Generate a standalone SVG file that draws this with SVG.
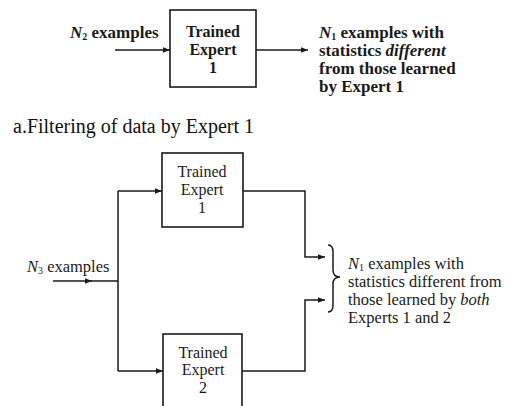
<svg xmlns="http://www.w3.org/2000/svg" width="511" height="406" viewBox="0 0 511 406">
<style>
.box{fill:#fff;stroke:#1a1a1a;stroke-width:1.6}
.ln{fill:none;stroke:#1a1a1a;stroke-width:1.5}
.t1{font-family:"Liberation Serif","Times New Roman",serif;font-weight:bold;font-size:17px;fill:#1a1a1a}
.tb1{font-family:"Liberation Serif","Times New Roman",serif;font-weight:bold;font-size:16px;fill:#1a1a1a;text-anchor:middle}
.t2{font-family:"Liberation Serif","Times New Roman",serif;font-size:16.5px;fill:#1a1a1a}
.tb2{font-family:"Liberation Serif","Times New Roman",serif;font-size:16px;fill:#1a1a1a;text-anchor:middle}
.cap{font-family:"Liberation Serif","Times New Roman",serif;font-size:20px;fill:#111}
.sub{font-size:10px}
</style>
<defs>
<marker id="ah" viewBox="0 0 10 10" refX="10" refY="5" markerWidth="7" markerHeight="7" markerUnits="userSpaceOnUse" orient="auto">
<path d="M0,1 L10,5 L0,9 Z" fill="#1a1a1a"/>
</marker>
</defs>
<rect width="511" height="406" fill="#fff"/>

<!-- Diagram a -->
<g id="connectors-a">
<line class="ln" x1="115" y1="50" x2="170" y2="50" marker-end="url(#ah)"/>
<line class="ln" x1="256" y1="50" x2="308" y2="50" marker-end="url(#ah)"/>
</g>
<g id="expert1-a">
<rect class="box" x="170" y="10" width="86" height="77"/>
<text class="tb1" x="213" y="37">Trained</text>
<text class="tb1" x="213" y="55">Expert</text>
<text class="tb1" x="213" y="73">1</text>
</g>
<g id="input-a">
<text class="t1" x="70" y="38"><tspan font-style="italic">N</tspan><tspan class="sub" dy="2">2</tspan><tspan dy="-2"> examples</tspan></text>
</g>
<g id="output-a">
<text class="t1" x="319" y="38"><tspan font-style="italic">N</tspan><tspan class="sub" dy="2">1</tspan><tspan dy="-2"> examples with</tspan></text>
<text class="t1" x="319" y="56">statistics <tspan font-style="italic">different</tspan></text>
<text class="t1" x="319" y="74">from those learned</text>
<text class="t1" x="319" y="92">by Expert 1</text>
</g>
<text class="cap" x="13" y="133">a.Filtering of data by Expert 1</text>

<!-- Diagram b -->
<g id="connectors-b">
<line class="ln" x1="53" y1="281" x2="92" y2="281" marker-end="url(#ah)"/>
<line class="ln" x1="91" y1="281" x2="118" y2="281"/>
<line class="ln" x1="118" y1="191" x2="118" y2="371"/>
<line class="ln" x1="118" y1="191" x2="162" y2="191" marker-end="url(#ah)"/>
<line class="ln" x1="118" y1="371" x2="163" y2="371" marker-end="url(#ah)"/>
<path class="ln" d="M243,191 H305 V257 H325" marker-end="url(#ah)"/>
<path class="ln" d="M242,371 H305 V300 H325" marker-end="url(#ah)"/>
<path class="ln" d="M328,245 Q333,245 333,252 V270 Q333,277 340,277 Q333,277 333,284 V305 Q333,312 328,312"/>
</g>
<g id="expert1-b">
<rect class="box" x="162" y="153" width="81" height="74"/>
<text class="tb2" x="202" y="177">Trained</text>
<text class="tb2" x="202" y="195">Expert</text>
<text class="tb2" x="202" y="213">1</text>
</g>
<g id="expert2-b">
<rect class="box" x="163" y="334" width="79" height="80"/>
<text class="tb2" x="203" y="358">Trained</text>
<text class="tb2" x="203" y="375">Expert</text>
<text class="tb2" x="203" y="393">2</text>
</g>
<g id="input-b">
<text class="t2" x="27" y="272"><tspan font-style="italic">N</tspan><tspan class="sub" dy="2">3</tspan><tspan dy="-2"> examples</tspan></text>
</g>
<g id="output-b">
<text class="t2" x="348" y="269"><tspan font-style="italic">N</tspan><tspan class="sub" dy="2">1</tspan><tspan dy="-2"> examples with</tspan></text>
<text class="t2" x="348" y="287">statistics different from</text>
<text class="t2" x="348" y="305">those learned by <tspan font-style="italic">both</tspan></text>
<text class="t2" x="348" y="323">Experts 1 and 2</text>
</g>
</svg>
